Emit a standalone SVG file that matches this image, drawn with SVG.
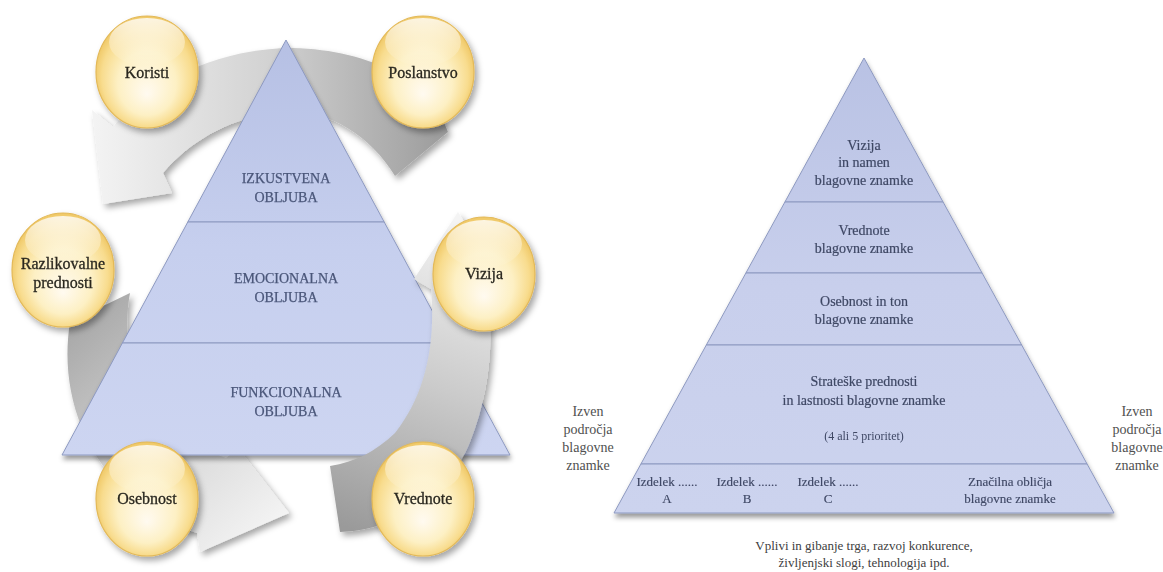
<svg xmlns="http://www.w3.org/2000/svg" width="1163" height="572" viewBox="0 0 1163 572">
  <style>
    .ball-label { font-family: "Liberation Serif", "DejaVu Serif", serif; font-size: 16px; fill: #2a2820; text-anchor: middle; stroke: #2a2820; stroke-width: 0.3; }
    .tier-caps { font-family: "Liberation Serif", "DejaVu Serif", serif; font-size: 14px; fill: #4a5679; text-anchor: middle; stroke: #4a5679; stroke-width: 0.25; }
    .tier-text { font-family: "Liberation Serif", "DejaVu Serif", serif; font-size: 14px; fill: #3f4865; text-anchor: middle; stroke: #3f4865; stroke-width: 0.2; }
    .tier-small { font-family: "Liberation Serif", "DejaVu Serif", serif; font-size: 12px; fill: #3f4865; text-anchor: middle; }
    .row-text { font-family: "Liberation Serif", "DejaVu Serif", serif; font-size: 13px; fill: #3f4865; text-anchor: middle; stroke: #3f4865; stroke-width: 0.15; }
    .side-text { font-family: "Liberation Serif", "DejaVu Serif", serif; font-size: 14px; fill: #505050; text-anchor: middle; }
    .foot-text { font-family: "Liberation Serif", "DejaVu Serif", serif; font-size: 13px; fill: #404040; text-anchor: middle; }
    .tier { stroke: #8d99c0; stroke-width: 1; }
    .ball { stroke: #e3b958; stroke-width: 1.2; }
  </style>
  <defs>
    <linearGradient id="tierFillL" gradientUnits="userSpaceOnUse" x1="0" y1="40" x2="0" y2="455">
      <stop offset="0" stop-color="#b6c0e4"/>
      <stop offset="0.5" stop-color="#c6cfee"/>
      <stop offset="1" stop-color="#cdd5f1"/>
    </linearGradient>
    <linearGradient id="tierFillR" gradientUnits="userSpaceOnUse" x1="0" y1="58" x2="0" y2="513">
      <stop offset="0" stop-color="#b9c2e4"/>
      <stop offset="0.5" stop-color="#c8cfec"/>
      <stop offset="1" stop-color="#ccd3ee"/>
    </linearGradient>
    <radialGradient id="ballFill" cx="50%" cy="52%" r="52%" fx="50%" fy="70%">
      <stop offset="0" stop-color="#fffaf0"/>
      <stop offset="0.55" stop-color="#fdf0c4"/>
      <stop offset="0.85" stop-color="#f8dc8e"/>
      <stop offset="1" stop-color="#efc764"/>
    </radialGradient>
    <linearGradient id="ballGloss" x1="0" y1="0" x2="0" y2="1">
      <stop offset="0" stop-color="#ffffff" stop-opacity="0.8"/>
      <stop offset="1" stop-color="#ffffff" stop-opacity="0"/>
    </linearGradient>
    <linearGradient id="arrowTop" gradientUnits="userSpaceOnUse" x1="95" y1="0" x2="445" y2="0">
      <stop offset="0" stop-color="#f3f3f3"/>
      <stop offset="0.5" stop-color="#d2d2d2"/>
      <stop offset="1" stop-color="#9c9c9c"/>
    </linearGradient>
    <linearGradient id="arrowLeft" gradientUnits="userSpaceOnUse" x1="80" y1="300" x2="285" y2="520">
      <stop offset="0" stop-color="#a4a4a4"/>
      <stop offset="0.45" stop-color="#cfcfcf"/>
      <stop offset="1" stop-color="#f4f4f4"/>
    </linearGradient>
    <linearGradient id="arrowRight" gradientUnits="userSpaceOnUse" x1="340" y1="525" x2="455" y2="220">
      <stop offset="0" stop-color="#9a9a9a"/>
      <stop offset="0.5" stop-color="#cbcbcb"/>
      <stop offset="1" stop-color="#f4f4f4"/>
    </linearGradient>
    <filter id="softShadow" x="-20%" y="-20%" width="140%" height="140%">
      <feDropShadow dx="3" dy="4" stdDeviation="3" flood-color="#000000" flood-opacity="0.35"/>
    </filter>
    <filter id="baseShadow" x="-10%" y="-10%" width="120%" height="125%">
      <feDropShadow dx="1" dy="4" stdDeviation="2.5" flood-color="#000000" flood-opacity="0.4"/>
    </filter>
  </defs>

  <rect width="1163" height="572" fill="#ffffff"/>

  <!-- cycle arrows behind the pyramid -->
  <g id="cycle-arrows-back" filter="url(#softShadow)">
    <path id="arrow-top" fill="url(#arrowTop)" d="M 395,176 L 448,132 C 430,82 372,50 293,48 C 220,48 152,80 113,127 L 92,110 L 103,204 L 172,193 L 163,173 C 198,132 248,112 293,112 C 330,112 370,135 395,176 Z"/>
    <path id="arrow-left" fill="url(#arrowLeft)" d="M 130,293 L 70,322 C 60,385 80,445 120,486 C 145,510 170,525 197,533 L 200,552 L 289,513 L 238,448 L 226,458 C 192,446 162,422 142,392 C 128,362 124,326 130,293 Z"/>
  </g>

  <!-- brand promise pyramid -->
  <g id="promise-pyramid" filter="url(#baseShadow)">
    <g id="tier-experiential">
      <polygon class="tier" fill="url(#tierFillL)" points="286,40 384.2,222 187.8,222"/>
      <text class="tier-caps" x="286" y="183">IZKUSTVENA</text>
      <text class="tier-caps" x="286" y="202">OBLJUBA</text>
    </g>
    <g id="tier-emotional">
      <polygon class="tier" fill="url(#tierFillL)" points="187.8,222 384.2,222 449.6,343 122.4,343"/>
      <text class="tier-caps" x="286" y="283">EMOCIONALNA</text>
      <text class="tier-caps" x="286" y="302">OBLJUBA</text>
    </g>
    <g id="tier-functional">
      <polygon class="tier" fill="url(#tierFillL)" points="122.4,343 449.6,343 510,455 62,455"/>
      <text class="tier-caps" x="286" y="397">FUNKCIONALNA</text>
      <text class="tier-caps" x="286" y="416">OBLJUBA</text>
    </g>
  </g>

  <!-- cycle arrow in front of the pyramid -->
  <g id="cycle-arrows-front" filter="url(#softShadow)">
    <path id="arrow-right" fill="url(#arrowRight)" d="M 330,466 L 340,532 C 400,530 450,492 470,442 C 485,405 492,362 490,325 L 506,290 L 458,212 L 414,279 L 431,289 C 436,345 425,395 395,433 C 375,452 355,462 330,466 Z"/>
  </g>

  <!-- value balls -->
  <g id="ball-koristi" filter="url(#softShadow)">
    <ellipse class="ball" cx="147" cy="72" rx="51" ry="56" fill="url(#ballFill)"/>
    <ellipse cx="147" cy="42" rx="38" ry="24" fill="url(#ballGloss)"/>
    <text class="ball-label" x="147" y="78">Koristi</text>
  </g>
  <g id="ball-poslanstvo" filter="url(#softShadow)">
    <ellipse class="ball" cx="423" cy="72" rx="51" ry="56" fill="url(#ballFill)"/>
    <ellipse cx="423" cy="42" rx="38" ry="24" fill="url(#ballGloss)"/>
    <text class="ball-label" x="423" y="78">Poslanstvo</text>
  </g>
  <g id="ball-razlikovalne" filter="url(#softShadow)">
    <ellipse class="ball" cx="63" cy="270" rx="51" ry="57" fill="url(#ballFill)"/>
    <ellipse cx="63" cy="240" rx="38" ry="24" fill="url(#ballGloss)"/>
    <text class="ball-label" x="63" y="269">Razlikovalne</text>
    <text class="ball-label" x="63" y="288">prednosti</text>
  </g>
  <g id="ball-vizija" filter="url(#softShadow)">
    <ellipse class="ball" cx="484" cy="274" rx="51" ry="57" fill="url(#ballFill)"/>
    <ellipse cx="484" cy="244" rx="38" ry="24" fill="url(#ballGloss)"/>
    <text class="ball-label" x="484" y="279">Vizija</text>
  </g>
  <g id="ball-osebnost" filter="url(#softShadow)">
    <ellipse class="ball" cx="147" cy="499" rx="51" ry="57" fill="url(#ballFill)"/>
    <ellipse cx="147" cy="469" rx="38" ry="24" fill="url(#ballGloss)"/>
    <text class="ball-label" x="147" y="504">Osebnost</text>
  </g>
  <g id="ball-vrednote" filter="url(#softShadow)">
    <ellipse class="ball" cx="423" cy="499" rx="51" ry="57" fill="url(#ballFill)"/>
    <ellipse cx="423" cy="469" rx="38" ry="24" fill="url(#ballGloss)"/>
    <text class="ball-label" x="423" y="504">Vrednote</text>
  </g>

  <!-- brand pyramid -->
  <g id="brand-pyramid" filter="url(#baseShadow)">
    <g id="level-vision">
      <polygon class="tier" fill="url(#tierFillR)" points="864,58 943.1,202 784.9,202"/>
      <text class="tier-text" x="864" y="150">Vizija</text>
      <text class="tier-text" x="864" y="167">in namen</text>
      <text class="tier-text" x="864" y="185">blagovne znamke</text>
    </g>
    <g id="level-values">
      <polygon class="tier" fill="url(#tierFillR)" points="784.9,202 943.1,202 982.1,273 745.9,273"/>
      <text class="tier-text" x="864" y="235">Vrednote</text>
      <text class="tier-text" x="864" y="253">blagovne znamke</text>
    </g>
    <g id="level-personality">
      <polygon class="tier" fill="url(#tierFillR)" points="745.9,273 982.1,273 1021.7,345 706.3,345"/>
      <text class="tier-text" x="864" y="306">Osebnost in ton</text>
      <text class="tier-text" x="864" y="324">blagovne znamke</text>
    </g>
    <g id="level-strategic">
      <polygon class="tier" fill="url(#tierFillR)" points="706.3,345 1021.7,345 1087.1,464 640.9,464"/>
      <text class="tier-text" x="864" y="386">Strateške prednosti</text>
      <text class="tier-text" x="864" y="405">in lastnosti blagovne znamke</text>
      <text class="tier-small" x="864" y="440">(4 ali 5 prioritet)</text>
    </g>
    <g id="level-products">
      <polygon class="tier" fill="url(#tierFillR)" points="640.9,464 1087.1,464 1114,513 614,513"/>
      <text class="row-text" x="667" y="486">Izdelek ......</text>
      <text class="row-text" x="667" y="503">A</text>
      <text class="row-text" x="747" y="486">Izdelek ......</text>
      <text class="row-text" x="747" y="503">B</text>
      <text class="row-text" x="828" y="486">Izdelek ......</text>
      <text class="row-text" x="828" y="503">C</text>
      <text class="row-text" x="1010" y="486">Značilna obličja</text>
      <text class="row-text" x="1010" y="503">blagovne znamke</text>
    </g>
  </g>

  <g id="outside-left">
    <text class="side-text" x="588" y="416">Izven</text>
    <text class="side-text" x="588" y="434">področja</text>
    <text class="side-text" x="588" y="452">blagovne</text>
    <text class="side-text" x="588" y="470">znamke</text>
  </g>
  <g id="outside-right">
    <text class="side-text" x="1137" y="416">Izven</text>
    <text class="side-text" x="1137" y="434">področja</text>
    <text class="side-text" x="1137" y="452">blagovne</text>
    <text class="side-text" x="1137" y="470">znamke</text>
  </g>
  <g id="market-influences">
    <text class="foot-text" x="864" y="550">Vplivi in gibanje trga, razvoj konkurence,</text>
    <text class="foot-text" x="864" y="567">življenjski slogi, tehnologija ipd.</text>
  </g>
</svg>
